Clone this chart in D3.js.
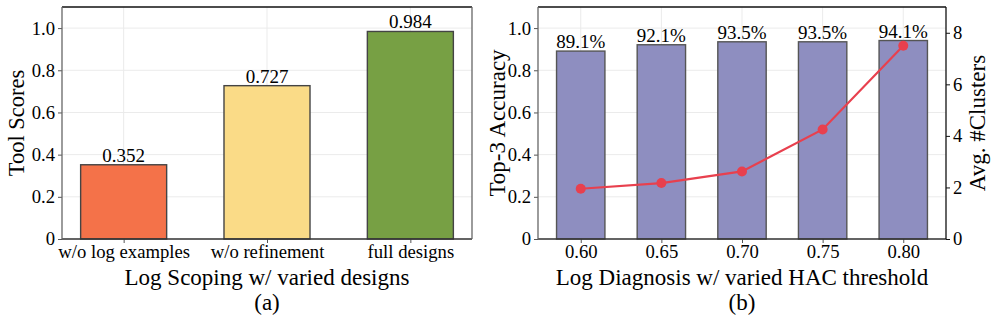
<!DOCTYPE html>
<html><head><meta charset="utf-8">
<script src="https://cdn.jsdelivr.net/npm/d3@7"></script>
<style>
html,body{margin:0;padding:0;background:#fff;}
svg text{font-family:"Liberation Serif","Times New Roman",serif;fill:#000;}
</style></head>
<body><svg id="c" width="996" height="320"></svg>
<script>
// ---- data ----
const catsA = ["w/o log examples", "w/o refinement", "full designs"];
const valsA = [0.352, 0.727, 0.984];
const colorsA = ["#F47249", "#FADB87", "#77A044"];
const yTicksA = [0, 0.2, 0.4, 0.6, 0.8, 1.0];

const catsB = ["0.60", "0.65", "0.70", "0.75", "0.80"];
const accB = [0.891, 0.921, 0.935, 0.935, 0.941];
const accLabelsB = ["89.1%", "92.1%", "93.5%", "93.5%", "94.1%"];
const clustersB = [1.95, 2.17, 2.62, 4.25, 7.50];
const yTicksB = [0, 0.2, 0.4, 0.6, 0.8, 1.0];
const y2TicksB = [0, 2, 4, 6, 8];

const FONT = '"Liberation Serif","Times New Roman",serif';
const svg = d3.select("#c");
const fmt = d => d === 0 ? "0" : d3.format(".1f")(d);

function panel(opts) {
  const {x0, x1, top, bottom, cats} = opts;
  const n = cats.length;
  const margin = 0.05 * (n - 1 + 0.6);
  const x = d3.scaleLinear().domain([-0.3 - margin, n - 1 + 0.3 + margin]).range([x0, x1]);
  const y = d3.scaleLinear().domain([0, 1.1]).range([bottom, top]);
  const g = svg.append("g");
  g.selectAll(".gy").data(opts.yTicks).enter().append("line")
    .attr("x1", x0).attr("x2", x1).attr("y1", d => y(d)).attr("y2", d => y(d))
    .attr("stroke", "#ebebeb").attr("stroke-width", 1);
  g.selectAll(".gx").data(d3.range(n)).enter().append("line")
    .attr("x1", d => x(d)).attr("x2", d => x(d)).attr("y1", top).attr("y2", bottom)
    .attr("stroke", "#ebebeb").attr("stroke-width", 1);
  return {g, x, y};
}

function axes(g, x, y, x0, x1, top, bottom, cats, yTicks, leftColor, rightColor) {
  const ya = d3.axisLeft(y).tickValues(yTicks).tickFormat(fmt).tickSize(4).tickPadding(3);
  const yg = g.append("g").attr("transform", `translate(${x0},0)`).call(ya).attr("font-family", FONT);
  yg.select(".domain").remove();
  yg.selectAll("line").attr("stroke", "#555");
  yg.selectAll("text").attr("font-size", 18.7);
  const xa = d3.axisBottom(x).tickValues(d3.range(cats.length)).tickFormat(i => cats[i]).tickSize(4).tickPadding(2);
  const xg = g.append("g").attr("transform", `translate(0,${bottom})`).call(xa).attr("font-family", FONT);
  xg.select(".domain").remove();
  xg.selectAll("line").attr("stroke", "#555");
  xg.selectAll("text").attr("font-size", 18.7);
  g.append("line").attr("x1", x0).attr("x2", x1).attr("y1", top).attr("y2", top).attr("stroke", "#111").attr("stroke-width", 1.3);
  g.append("line").attr("x1", x0).attr("x2", x1).attr("y1", bottom).attr("y2", bottom).attr("stroke", "#333").attr("stroke-width", 1.3);
  g.append("line").attr("x1", x0).attr("x2", x0).attr("y1", top).attr("y2", bottom).attr("stroke", leftColor).attr("stroke-width", 1.3);
  g.append("line").attr("x1", x1).attr("x2", x1).attr("y1", top).attr("y2", bottom).attr("stroke", rightColor).attr("stroke-width", 1.3);
}

// ---- panel (a) ----
{
  const x0 = 62, x1 = 472, top = 7, bottom = 239;
  const {g, x, y} = panel({x0, x1, top, bottom, cats: catsA, yTicks: yTicksA});
  const bw = x(0.3) - x(0);
  g.selectAll(".bar").data(valsA).enter().append("rect")
    .attr("x", (d, i) => x(i) - bw).attr("width", 2 * bw)
    .attr("y", d => y(d)).attr("height", d => y(0) - y(d))
    .attr("fill", (d, i) => colorsA[i]).attr("stroke", "#444").attr("stroke-width", 1.4);
  g.selectAll(".lab").data(valsA).enter().append("text")
    .attr("x", (d, i) => x(i)).attr("y", d => y(d) - 3)
    .attr("text-anchor", "middle").attr("font-size", 19).text(d => d3.format(".3f")(d));
  axes(g, x, y, x0, x1, top, bottom, catsA, yTicksA, "#666", "#666");
  g.append("text").attr("transform", `translate(24,${(top + bottom) / 2}) rotate(-90)`)
    .attr("text-anchor", "middle").attr("font-size", 22.5).text("Tool Scores");
  g.append("text").attr("x", (x0 + x1) / 2).attr("y", 285).attr("text-anchor", "middle")
    .attr("font-size", 23).text("Log Scoping w/ varied designs");
  g.append("text").attr("x", (x0 + x1) / 2).attr("y", 310).attr("text-anchor", "middle")
    .attr("font-size", 23).text("(a)");
}

// ---- panel (b) ----
{
  const x0 = 538, x1 = 946, top = 7, bottom = 239;
  const {g, x, y} = panel({x0, x1, top, bottom, cats: catsB, yTicks: yTicksB});
  const y2 = d3.scaleLinear().domain([0, 9]).range([bottom, top]);
  const bw = x(0.3) - x(0);
  g.selectAll(".bar").data(accB).enter().append("rect")
    .attr("x", (d, i) => x(i) - bw).attr("width", 2 * bw)
    .attr("y", d => y(d)).attr("height", d => y(0) - y(d))
    .attr("fill", "#8E8EC0").attr("stroke", "#555").attr("stroke-width", 1.4);
  g.selectAll(".lab").data(accB).enter().append("text")
    .attr("x", (d, i) => x(i)).attr("y", d => y(d) - 3)
    .attr("text-anchor", "middle").attr("font-size", 19).text((d, i) => accLabelsB[i]);
  axes(g, x, y, x0, x1, top, bottom, catsB, yTicksB, "#666", "#111");
  const line = d3.line().x((d, i) => x(i)).y(d => y2(d));
  g.append("path").datum(clustersB).attr("d", line).attr("fill", "none")
    .attr("stroke", "#E8404E").attr("stroke-width", 2.2);
  g.selectAll(".pt").data(clustersB).enter().append("circle")
    .attr("cx", (d, i) => x(i)).attr("cy", d => y2(d)).attr("r", 5)
    .attr("fill", "#E8404E");
  const ra = d3.axisRight(y2).tickValues(y2TicksB).tickFormat(d3.format("d")).tickSize(4).tickPadding(3);
  const rg = g.append("g").attr("transform", `translate(${x1},0)`).call(ra).attr("font-family", FONT);
  rg.select(".domain").remove();
  rg.selectAll("line").attr("stroke", "#111");
  rg.selectAll("text").attr("font-size", 18.7);
  g.append("text").attr("transform", `translate(505,${(top + bottom) / 2}) rotate(-90)`)
    .attr("text-anchor", "middle").attr("font-size", 23).text("Top-3 Accuracy");
  g.append("text").attr("transform", `translate(985,${(top + bottom) / 2}) rotate(-90)`)
    .attr("text-anchor", "middle").attr("font-size", 23).text("Avg. #Clusters");
  g.append("text").attr("x", (x0 + x1) / 2).attr("y", 285).attr("text-anchor", "middle")
    .attr("font-size", 23).text("Log Diagnosis w/ varied HAC threshold");
  g.append("text").attr("x", (x0 + x1) / 2).attr("y", 310).attr("text-anchor", "middle")
    .attr("font-size", 23).text("(b)");
}
</script></body></html>
